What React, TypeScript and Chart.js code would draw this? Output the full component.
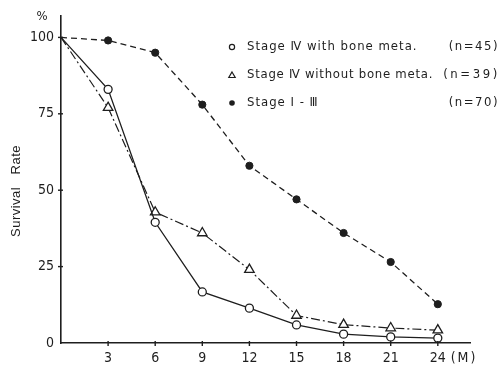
import React, { useEffect, useRef } from "react";
import { Chart, registerables } from "chart.js";

Chart.register(...registerables);

const months = [0, 3, 6, 9, 12, 15, 18, 21, 24];
const withBone = [100, 83, 39.5, 16.7, 11.4, 5.9, 2.9, 2.0, 1.6];
const withoutBone = [100, 77, 42.8, 36, 24, 9, 6, 4.9, 4.2];
const stage13 = [100, 99, 95, 78, 58, 47, 36, 26.5, 12.7];
const xTicks = [3, 6, 9, 12, 15, 18, 21, 24];
const yTicks = [0, 25, 50, 75, 100];
const legendNames = ["Stage \u2163 with bone meta.", "Stage \u2163 without bone meta.", "Stage \u2160 - \u2162"];
const legendCounts = ["(n=45)", "(n=39)", "(n=70)"];

const INK = "#1e1e1e";
const TICK_FONT = "'Liberation Sans Narrow', 'DejaVu Sans Condensed', 'Liberation Sans', sans-serif";

const extras = {
  id: "extras",
  afterDraw(chart: any) {
    const ctx = chart.ctx;
    const xs = chart.scales.x;
    const ys = chart.scales.y;
    const area = chart.chartArea;
    ctx.save();
    ctx.strokeStyle = INK;
    ctx.lineWidth = 1.4;
    yTicks.forEach((v) => {
      if (v === 0) return;
      const y = ys.getPixelForValue(v);
      ctx.beginPath();
      ctx.moveTo(area.left - 3, y);
      ctx.lineTo(area.left + 2, y);
      ctx.stroke();
    });
    xTicks.forEach((v) => {
      const x = xs.getPixelForValue(v);
      ctx.beginPath();
      ctx.moveTo(x, area.bottom - 2);
      ctx.lineTo(x, area.bottom + 3);
      ctx.stroke();
    });
    ctx.fillStyle = INK;
    ctx.font = "13px " + TICK_FONT;
    ctx.textAlign = "center";
    ctx.textBaseline = "middle";
    ctx.fillText("%", 42, 17);
    ctx.font = "14px " + TICK_FONT;
    ctx.letterSpacing = "2px";
    ctx.fillText("(M)", 464, 358);
    ctx.letterSpacing = "0px";

    ctx.save();
    ctx.translate(16, 191);
    ctx.rotate(-Math.PI / 2);
    ctx.font = "13px 'Liberation Sans', sans-serif";
    ctx.letterSpacing = "0.5px";
    ctx.fillText("Survival   Rate", 0, 0);
    ctx.restore();

    const rows = [47, 75, 103];
    ctx.font = "13px 'DejaVu Sans Condensed', 'Liberation Sans', sans-serif";
    rows.forEach((y, i) => {
      const mx = 232;
      ctx.lineWidth = 1.2;
      ctx.setLineDash([]);
      if (i === 0) {
        ctx.beginPath();
        ctx.arc(mx, y, 2.6, 0, Math.PI * 2);
        ctx.fillStyle = "#fff";
        ctx.fill();
        ctx.stroke();
      } else if (i === 1) {
        ctx.beginPath();
        ctx.moveTo(mx, y - 3);
        ctx.lineTo(mx + 3.2, y + 2.5);
        ctx.lineTo(mx - 3.2, y + 2.5);
        ctx.closePath();
        ctx.stroke();
      } else {
        ctx.beginPath();
        ctx.arc(mx, y, 2.8, 0, Math.PI * 2);
        ctx.fillStyle = INK;
        ctx.fill();
      }
      ctx.fillStyle = INK;
      ctx.textAlign = "left";
      ctx.letterSpacing = i === 1 ? "0.75px" : "1px";
      ctx.fillText(legendNames[i], 247, y);
      ctx.textAlign = "right";
      ctx.letterSpacing = i === 1 ? "2.6px" : "1.5px";
      ctx.fillText(legendCounts[i], i === 1 ? 500 : 499, y);
    });
    ctx.restore();
  },
};

export default function App() {
  const ref = useRef<HTMLCanvasElement>(null);
  useEffect(() => {
    document.body.style.margin = "0";
    const toXY = (arr: number[]) => months.map((m, i) => ({ x: m, y: arr[i] }));
    const chart = new Chart(ref.current as HTMLCanvasElement, {
      type: "line",
      data: {
        datasets: [
          {
            label: legendNames[0],
            data: toXY(withBone),
            borderColor: INK,
            borderWidth: 1.3,
            pointStyle: "circle",
            pointRadius: (c: any) => (c.dataIndex === 0 ? 0 : 4),
            pointBackgroundColor: "#fff",
            pointBorderColor: INK,
            pointBorderWidth: 1.3,
            tension: 0,
          },
          {
            label: legendNames[1],
            data: toXY(withoutBone),
            borderColor: INK,
            borderWidth: 1.2,
            borderDash: [9, 3, 2, 3],
            pointStyle: "triangle",
            pointRadius: (c: any) => (c.dataIndex === 0 ? 0 : 5.5),
            pointBackgroundColor: "#fff",
            pointBorderColor: INK,
            pointBorderWidth: 1.3,
            tension: 0,
          },
          {
            label: legendNames[2],
            data: toXY(stage13),
            borderColor: INK,
            borderWidth: 1.3,
            borderDash: [6, 4],
            pointStyle: "circle",
            pointRadius: (c: any) => (c.dataIndex === 0 ? 0 : 3.6),
            pointBackgroundColor: INK,
            pointBorderColor: INK,
            pointBorderWidth: 1,
            tension: 0,
          },
        ],
      },
      options: {
        animation: false,
        responsive: false,
        layout: { padding: { left: 0, top: 15, right: 32, bottom: 0 } },
        plugins: { legend: { display: false }, tooltip: { enabled: false } },
        scales: {
          x: {
            type: "linear",
            min: 0,
            max: 26.05,
            grid: { display: false, drawTicks: false },
            border: { display: true, color: INK, width: 1.6 },
            afterBuildTicks: (s: any) => {
              s.ticks = xTicks.map((v) => ({ value: v }));
            },
            afterFit: (s: any) => {
              s.height = 23;
            },
            ticks: {
              padding: 7,
              color: INK,
              font: { size: 14, family: TICK_FONT },
              maxRotation: 0,
              autoSkip: false,
            },
          },
          y: {
            type: "linear",
            min: 0,
            max: 107.2,
            grid: { display: false, drawTicks: false },
            border: { display: true, color: INK, width: 1.6 },
            afterBuildTicks: (s: any) => {
              s.ticks = yTicks.map((v) => ({ value: v }));
            },
            afterFit: (s: any) => {
              s.width = 61;
            },
            ticks: {
              padding: 7,
              color: INK,
              font: { size: 14, family: TICK_FONT },
              autoSkip: false,
            },
          },
        },
      },
      plugins: [extras],
    } as any);
    return () => chart.destroy();
  }, []);
  return (
    <div style={{ position: "absolute", left: 0, top: 0, width: 502, height: 366, background: "#fff" }}>
      <canvas ref={ref} width={502} height={366} style={{ display: "block", width: 502, height: 366 }} />
    </div>
  );
}
